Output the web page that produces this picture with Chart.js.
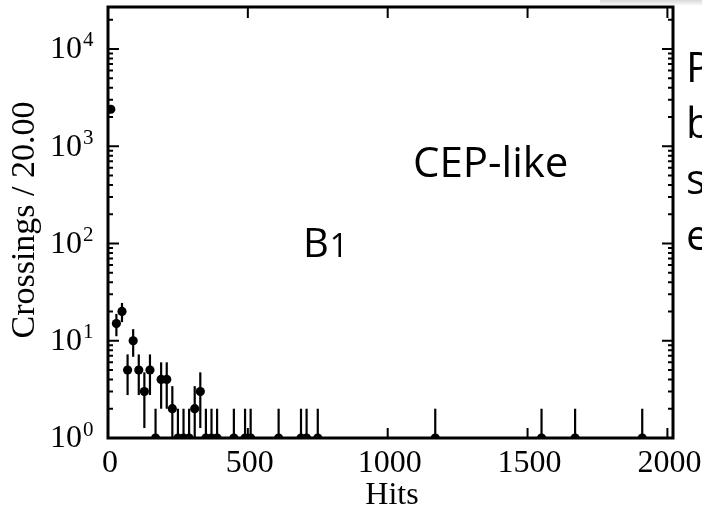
<!DOCTYPE html>
<html>
<head>
<meta charset="utf-8">
<title>Hits</title>
<script src="https://cdn.jsdelivr.net/npm/chart.js@4.4.1/dist/chart.umd.min.js"></script>
<style>
  html, body { margin: 0; padding: 0; background: #fff; }
  #wrap { position: relative; width: 702px; height: 509px; }
</style>
</head>
<body>
<div id="wrap"><canvas id="hits-chart"></canvas></div>
<script>
// bin centres (20 hits per bin) and crossings counted in each bin
const binCenters = [10, 30, 50, 70, 90, 110, 130, 150, 170, 190, 210, 230, 250, 270, 290,
  310, 330, 350, 370, 390, 450, 490, 510, 610, 690, 710, 750, 1170, 1550, 1670, 1910];
const counts = [2400, 15, 20, 5, 10, 5, 3, 5, 1, 4, 4, 2, 1, 1, 1,
  2, 3, 1, 1, 1, 1, 1, 1, 1, 1, 1, 1, 1, 1, 1, 1];

// axis ranges and tick labels
const xRange = [0, 2020];
const yRange = [1, 27000];
const xTickLabels = [0, 500, 1000, 1500, 2000];
const yDecades = [0, 1, 2, 3, 4];

const SERIF = "'Liberation Serif', 'DejaVu Serif', serif";
const SANS = "'Open Sans', 'DejaVu Sans', sans-serif";

// Poisson error bars (sqrt N) drawn under the markers
const errorBars = {
  id: "errorBars",
  beforeDatasetsDraw(chart) {
    const { ctx, chartArea: a, scales } = chart;
    ctx.save();
    ctx.beginPath();
    ctx.rect(a.left, a.top, a.right - a.left, a.bottom - a.top);
    ctx.clip();
    ctx.strokeStyle = "#000";
    ctx.lineWidth = 2.2;
    binCenters.forEach((x, i) => {
      const n = counts[i];
      const err = Math.sqrt(n);
      const px = scales.x.getPixelForValue(x);
      const yHi = scales.y.getPixelForValue(n + err);
      const yLo = n - err > 0 ? scales.y.getPixelForValue(n - err) : a.bottom + 5;
      ctx.beginPath();
      ctx.moveTo(px, yLo);
      ctx.lineTo(px, yHi);
      ctx.stroke();
    });
    ctx.restore();
  },
};

// frame, inward ticks, labels and annotations
const frameAndText = {
  id: "frameAndText",
  afterDraw(chart) {
    const { ctx, chartArea: a, scales } = chart;
    const xs = scales.x, ys = scales.y;
    ctx.save();
    ctx.strokeStyle = "#000";

    // y ticks on both sides
    ctx.lineWidth = 2;
    yDecades.forEach((k) => {
      for (let m = 1; m <= 9; m++) {
        const v = m * Math.pow(10, k);
        if (v < yRange[0] || v > yRange[1]) continue;
        const py = ys.getPixelForValue(v);
        const len = m === 1 ? 11 : 5;
        ctx.beginPath();
        ctx.moveTo(a.left, py);
        ctx.lineTo(a.left + len, py);
        ctx.moveTo(a.right, py);
        ctx.lineTo(a.right - len, py);
        ctx.stroke();
      }
    });

    // x ticks on top and bottom
    xTickLabels.forEach((v) => {
      if (v === 0) return;
      const px = xs.getPixelForValue(v);
      ctx.beginPath();
      ctx.moveTo(px, a.bottom);
      ctx.lineTo(px, a.bottom - 10);
      ctx.moveTo(px, a.top);
      ctx.lineTo(px, a.top + 11);
      ctx.stroke();
    });

    // frame
    ctx.lineWidth = 3;
    ctx.strokeRect(a.left, a.top, a.right - a.left, a.bottom - a.top);

    ctx.fillStyle = "#000";

    // y tick labels 10^k
    yDecades.forEach((k) => {
      const py = ys.getPixelForValue(Math.pow(10, k));
      ctx.textBaseline = "middle";
      ctx.textAlign = "right";
      ctx.font = "32px " + SERIF;
      ctx.fillText("10", 82, py + 1);
      ctx.textAlign = "left";
      ctx.font = "21px " + SERIF;
      ctx.fillText(String(k), 83, py - 8);
    });

    // x tick labels
    ctx.textAlign = "center";
    ctx.textBaseline = "middle";
    ctx.font = "32px " + SERIF;
    xTickLabels.forEach((v) => {
      ctx.fillText(String(v), xs.getPixelForValue(v) + 2, 464);
    });

    // axis titles
    ctx.fillText("Hits", 392, 496);
    ctx.save();
    ctx.translate(25, 220);
    ctx.rotate(-Math.PI / 2);
    ctx.font = "34px " + SERIF;
    ctx.fillText("Crossings / 20.00", 0, 0);
    ctx.restore();

    // annotations
    ctx.textAlign = "left";
    ctx.textBaseline = "alphabetic";
    ctx.font = "42px " + SANS;
    ctx.fillText("CEP-like", 413, 177);
    ctx.font = "40px " + SANS;
    ctx.fillText("B", 303, 257);
    const bw = ctx.measureText("B").width;
    ctx.font = "32px " + SANS;
    ctx.fillText("1", 303 + bw + 1, 257);

    // side text running off the page
    ctx.font = "42px " + SANS;
    ["P", "b", "s", "e"].forEach((t, i) => {
      ctx.fillText(t, 686, 82 + i * 56);
    });

    // faint shade along the top right corner
    const g = ctx.createLinearGradient(0, 0, 0, 6);
    g.addColorStop(0, "rgba(200,200,200,0.7)");
    g.addColorStop(1, "rgba(200,200,200,0)");
    ctx.fillStyle = g;
    ctx.fillRect(600, 0, 102, 6);

    ctx.restore();
  },
};

const chart = new Chart(document.getElementById("hits-chart"), {
  type: "scatter",
  data: {
    datasets: [
      {
        label: "Crossings",
        data: binCenters.map((x, i) => ({ x: x, y: counts[i] })),
        backgroundColor: "#000",
        borderColor: "#000",
        pointRadius: 4.6,
        pointHoverRadius: 4.6,
        borderWidth: 0,
        clip: 0,
      },
    ],
  },
  options: {
    responsive: true,
    maintainAspectRatio: false,
    animation: false,
    events: [],
    layout: { padding: { left: 108, right: 29, top: 7, bottom: 71 } },
    plugins: { legend: { display: false }, tooltip: { enabled: false } },
    scales: {
      x: { type: "linear", min: xRange[0], max: xRange[1], display: false },
      y: { type: "logarithmic", min: yRange[0], max: yRange[1], bounds: "data", display: false },
    },
  },
  plugins: [errorBars, frameAndText],
});
</script>
</body>
</html>
